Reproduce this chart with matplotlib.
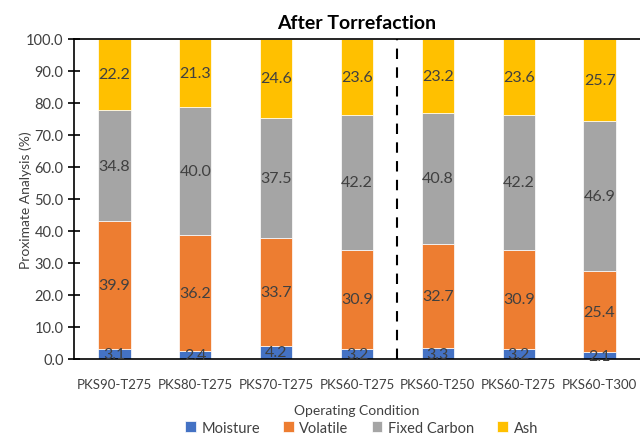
import numpy as np
import matplotlib.pyplot as plt

plt.rcParams['font.family'] = ['Lato', 'DejaVu Sans']

# ================================== data ==================================
conditions = ['PKS90-T275', 'PKS80-T275', 'PKS70-T275', 'PKS60-T275',
              'PKS60-T250', 'PKS60-T275', 'PKS60-T300']
moisture = [3.1, 2.4, 4.2, 3.2, 3.3, 3.2, 2.1]
volatile = [39.9, 36.2, 33.7, 30.9, 32.7, 30.9, 25.4]
fixed_carbon = [34.8, 40.0, 37.5, 42.2, 40.8, 42.2, 46.9]
ash = [22.2, 21.3, 24.6, 23.6, 23.2, 23.6, 25.7]

series = [('Moisture', moisture, '#4472C4'),
          ('Volatile', volatile, '#ED7D31'),
          ('Fixed Carbon', fixed_carbon, '#A5A5A5'),
          ('Ash', ash, '#FFC000')]
# ==================================  end data ==================================

fig = plt.figure(figsize=(6.4, 4.39), dpi=100)
ax = fig.add_axes([0.1156, 0.18, 0.8844, 0.729])

x = np.arange(len(conditions))
bottom = np.zeros(len(conditions))
for name, vals, col in series:
    vals = np.array(vals)
    bars = ax.bar(x, vals, 0.4, bottom=bottom, color=col, label=name,
                  edgecolor='white', linewidth=0.5)
    for xi, b, v in zip(x, bottom, vals):
        ax.text(xi, b + v / 2, f'{v:.1f}', ha='center', va='center',
                fontsize=11.5, color='#404040')
    bottom += vals

# 区切り線
ax.axvline(3.5, color='black', linestyle=(0, (5, 4)), linewidth=1.5)

ax.set_xlim(-0.5, 6.5)
ax.set_ylim(0, 100)
ax.set_yticks(np.arange(0, 101, 10))
ax.set_yticklabels([f'{t:.1f}' for t in np.arange(0, 101, 10)])
ax.set_xticks(x)
ax.set_xticklabels(conditions)
ax.tick_params(axis='y', direction='inout', length=8, width=1.2, labelsize=10.5,
               labelcolor='#404040')
ax.tick_params(axis='x', length=0, labelsize=9.5, labelcolor='#404040', pad=14)
for s in ['left', 'bottom', 'top']:
    ax.spines[s].set_linewidth(1.2)
ax.spines['right'].set_visible(False)

ax.set_title('After Torrefaction', fontsize=14, fontweight='bold', pad=8)
ax.set_ylabel('Proximate Analysis (%)', fontsize=10, color='#404040')
ax.yaxis.set_label_coords(-0.075, 0.5)
ax.set_xlabel('Operating Condition', fontsize=10, color='#404040', labelpad=10)

fig.legend(loc='lower center', bbox_to_anchor=(0.565, -0.022), ncol=4, frameon=False,
           fontsize=10.5, handlelength=0.7, handleheight=0.7, columnspacing=1.6,
           handletextpad=0.4, labelcolor='#404040')

fig.savefig('out.png', dpi=100)
